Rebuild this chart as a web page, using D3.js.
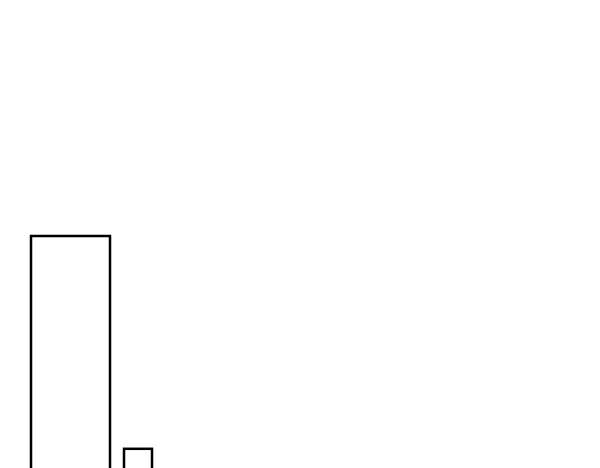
<!DOCTYPE html>
<html>
  <head>
    <meta charset='UTF-8'/>
    <script src="https://cdn.jsdelivr.net/npm/d3@7"></script>
    <style>
      body { margin : 0; background : white; }
      .bar {
	  fill : white;
	  stroke : black;
	  stroke-width : 2.5;
      }
    </style>
  </head>
  <body>
    <svg id='fig' width='600' height='468'></svg>
    <script>
      const width = 600, height = 468

      // bar data: categories, values, relative widths
      const names  = ["a", "b"]
      const values = [234, 23]
      const widths = [79, 28]
      const gap = 14

      var fig = d3.select("#fig")

      // cumulative starts from the widths
      var starts = []
      var s = 0
      widths.forEach((w, i) => { starts.push(s); s += w + gap })

      const x = d3.scaleLinear()
	    .domain([0, 600])
	    .range([31, 631])

      const y = d3.scaleLinear()
	    .domain([0, 234])
	    .range([472, 236])

      var data = names.map((n, i) => ({name : n, value : values[i], x0 : starts[i], w : widths[i]}))

      fig.append("g")
	  .selectAll("rect")
	  .data(data)
	  .join("rect")
	  .attr("class", "bar")
	  .attr("x", d => x(d.x0))
	  .attr("width", d => x(d.x0 + d.w) - x(d.x0))
	  .attr("y", d => y(d.value))
	  .attr("height", d => y(0) - y(d.value))
    </script>
  </body>
</html>
